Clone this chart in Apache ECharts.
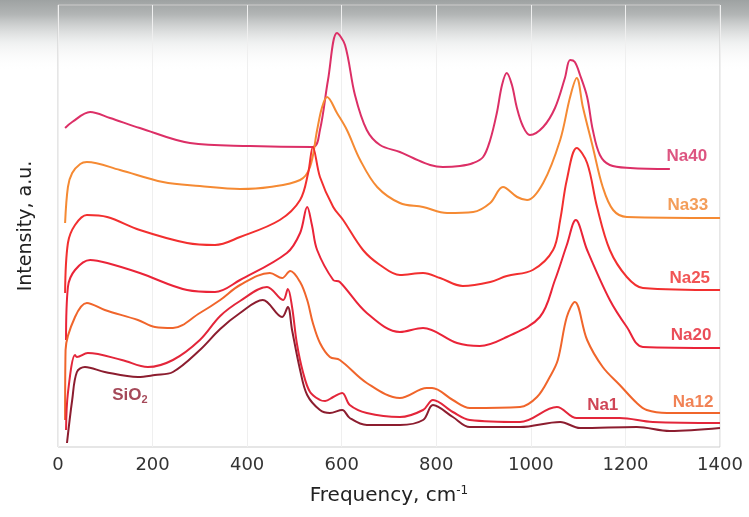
<!DOCTYPE html>
<html>
<head>
<meta charset="utf-8">
<script src="https://cdn.jsdelivr.net/npm/echarts@6/dist/echarts.min.js"></script>
<style>
  html, body { margin: 0; padding: 0; background: #fff; }
  #chart { width: 749px; height: 517px; }
</style>
</head>
<body>
<div id="chart"></div>
<script>
// Raman spectra, [frequency cm-1, intensity a.u.]
var na40 = [[15,319],[30,325],[68,335],[110,329],[173,319],[279,304],[406,301],[539,300],[554,317],[571,367],[590,414],[607,402],[628,352],[653,317],[681,302],[723,295],[751,289],[787,282],[814,280],[850,281],[878,284],[899,290],[914,307],[928,334],[939,362],[949,374],[960,362],[970,340],[983,321],[998,312],[1026,320],[1051,339],[1072,369],[1083,387],[1093,385],[1104,372],[1119,350],[1131,317],[1146,292],[1167,282],[1210,279],[1294,278]];
var na33 = [[15,224],[21,260],[30,274],[47,283],[61,285],[131,277],[222,265],[300,261],[385,258],[448,260],[512,267],[533,280],[548,317],[558,339],[569,350],[590,334],[611,317],[639,287],[675,260],[723,244],[772,240],[823,234],[878,235],[914,244],[941,260],[971,250],[992,247],[1026,264],[1062,307],[1083,350],[1097,369],[1110,340],[1131,300],[1152,260],[1174,237],[1203,230],[1400,229]];
var na25 = [[15,154],[21,204],[36,222],[61,232],[104,230],[173,217],[273,204],[332,202],[385,210],[469,227],[512,247],[529,274],[539,300],[554,270],[582,240],[603,227],[645,197],[681,182],[723,172],[772,174],[808,169],[856,161],[914,165],[949,171],[1004,177],[1047,197],[1062,227],[1076,267],[1097,299],[1119,284],[1140,240],[1167,197],[1203,170],[1237,159],[1400,157]];
var na20 = [[17,107],[21,160],[36,177],[68,187],[104,184],[173,174],[273,157],[332,155],[385,167],[484,194],[512,214],[527,240],[537,222],[548,197],[582,167],[596,165],[653,134],[723,115],[772,119],[844,104],[892,101],[949,110],[1019,130],[1051,167],[1076,202],[1095,227],[1119,197],[1167,147],[1203,120],[1237,100],[1400,99]];
var na12 = [[15,27],[16,97],[36,130],[61,144],[99,137],[169,127],[205,120],[243,119],[300,134],[343,147],[385,162],[448,174],[474,169],[491,176],[512,165],[527,147],[539,124],[554,104],[575,90],[596,87],[653,64],[723,49],[780,59],[791,59],[835,47],[871,39],[977,40],[1013,50],[1040,70],[1057,87],[1076,130],[1093,145],[1119,107],[1152,80],[1188,62],[1224,44],[1245,37],[1288,34],[1400,34]];
var na1 = [[17,17],[21,54],[36,92],[40,90],[63,94],[135,87],[190,80],[243,87],[300,107],[343,131],[385,146],[442,160],[476,147],[486,158],[495,140],[505,104],[518,75],[533,55],[554,47],[565,46],[582,50],[601,54],[617,42],[653,34],[723,30],[772,37],[793,47],[835,35],[871,27],[977,25],[1055,40],[1097,29],[1188,29],[1258,25],[1400,24]];
var sio2 = [[19,4],[30,47],[40,75],[57,80],[99,75],[169,70],[205,72],[243,75],[300,97],[343,118],[385,134],[433,147],[474,130],[486,140],[495,117],[512,77],[527,52],[554,37],[575,34],[601,37],[617,29],[653,22],[723,22],[772,27],[793,42],[835,30],[871,20],[977,20],[1062,25],[1104,19],[1224,20],[1294,16],[1400,19]];

var seriesNames = ['Na40', 'Na33', 'Na25', 'Na20', 'Na12', 'Na1', 'SiO2'];
var seriesData = [na40, na33, na25, na20, na12, na1, sio2];
var lineColors = ['#dc2f66', '#f58a33', '#f22f2f', '#ea2438', '#f0652b', '#e3263a', '#8c1d2f'];
var labelColors = ['#d42a62', '#f08530', '#ee2a2a', '#e52030', '#ee632a', '#c3162c', '#8e1c30'];
// where each name sits, [frequency, intensity]
var labelAt = [[1330,291],[1332,242],[1336,169],[1339,112],[1343,45],[1152,42],[152,52]];

var chart = echarts.init(document.getElementById('chart'));

var series = [];
for (var i = 0; i < seriesData.length; i++) {
  series.push({
    name: seriesNames[i],
    type: 'line',
    data: seriesData[i],
    showSymbol: false,
    smooth: 0.35,
    lineStyle: { color: lineColors[i], width: 2 },
    z: 3
  });
}

var labelData = [];
for (var j = 0; j < seriesNames.length; j++) {
  labelData.push({
    value: labelAt[j],
    label: {
      color: labelColors[j],
      formatter: seriesNames[j] == 'SiO2' ? 'SiO{sub|2}' : seriesNames[j]
    }
  });
}
series.push({
  type: 'scatter',
  symbolSize: 0,
  silent: true,
  z: 4,
  data: labelData,
  label: {
    show: true,
    position: 'inside',
    fontFamily: 'Liberation Sans, Arial, sans-serif',
    fontWeight: 'bold',
    fontSize: 17,
    rich: {
      sub: { fontSize: 11, fontWeight: 'bold', color: '#8e1c30', padding: [10, 0, 0, 0] }
    }
  }
});

var option = {
  animation: false,
  backgroundColor: '#ffffff',
  graphic: [{
    type: 'rect',
    z: -10,
    shape: { x: 0, y: 0, width: 749, height: 72 },
    style: {
      fill: new echarts.graphic.LinearGradient(0, 0, 0, 1, [
        { offset: 0, color: '#9ea2a2' },
        { offset: 0.2, color: '#b2b5b5' },
        { offset: 0.6, color: 'rgba(230,232,232,0.6)' },
        { offset: 1, color: 'rgba(255,255,255,0)' }
      ])
    }
  }],
  grid: {
    left: 58, right: 29, top: 5, bottom: 70,
    show: true,
    borderColor: '#cdcdcd',
    borderWidth: 1
  },
  xAxis: {
    type: 'value',
    min: 0,
    max: 1400,
    interval: 200,
    axisLine: { show: false },
    axisTick: { show: false },
    splitLine: { show: true, lineStyle: { color: '#efefef', width: 1 } },
    axisLabel: {
      margin: 9,
      fontSize: 18,
      color: '#333',
      fontFamily: 'DejaVu Sans, sans-serif',
      formatter: function (v) { return String(v); }
    },
    name: 'Frequency, cm{sup|-1}',
    nameLocation: 'middle',
    nameGap: 38,
    nameTextStyle: {
      fontSize: 20,
      color: '#222',
      fontFamily: 'DejaVu Sans, sans-serif',
      rich: {
        sup: { fontSize: 12, color: '#222', fontFamily: 'DejaVu Sans, sans-serif', padding: [0, 0, 10, 0] }
      }
    }
  },
  yAxis: {
    type: 'value',
    min: 0,
    max: 442,
    axisLine: { show: false },
    axisTick: { show: false },
    axisLabel: { show: false },
    splitLine: { show: false },
    name: 'Intensity, a.u.',
    nameLocation: 'middle',
    nameGap: 22,
    nameTextStyle: {
      fontSize: 19,
      color: '#222',
      fontFamily: 'DejaVu Sans, sans-serif'
    }
  },
  series: series
};

chart.setOption(option);
</script>
</body>
</html>
